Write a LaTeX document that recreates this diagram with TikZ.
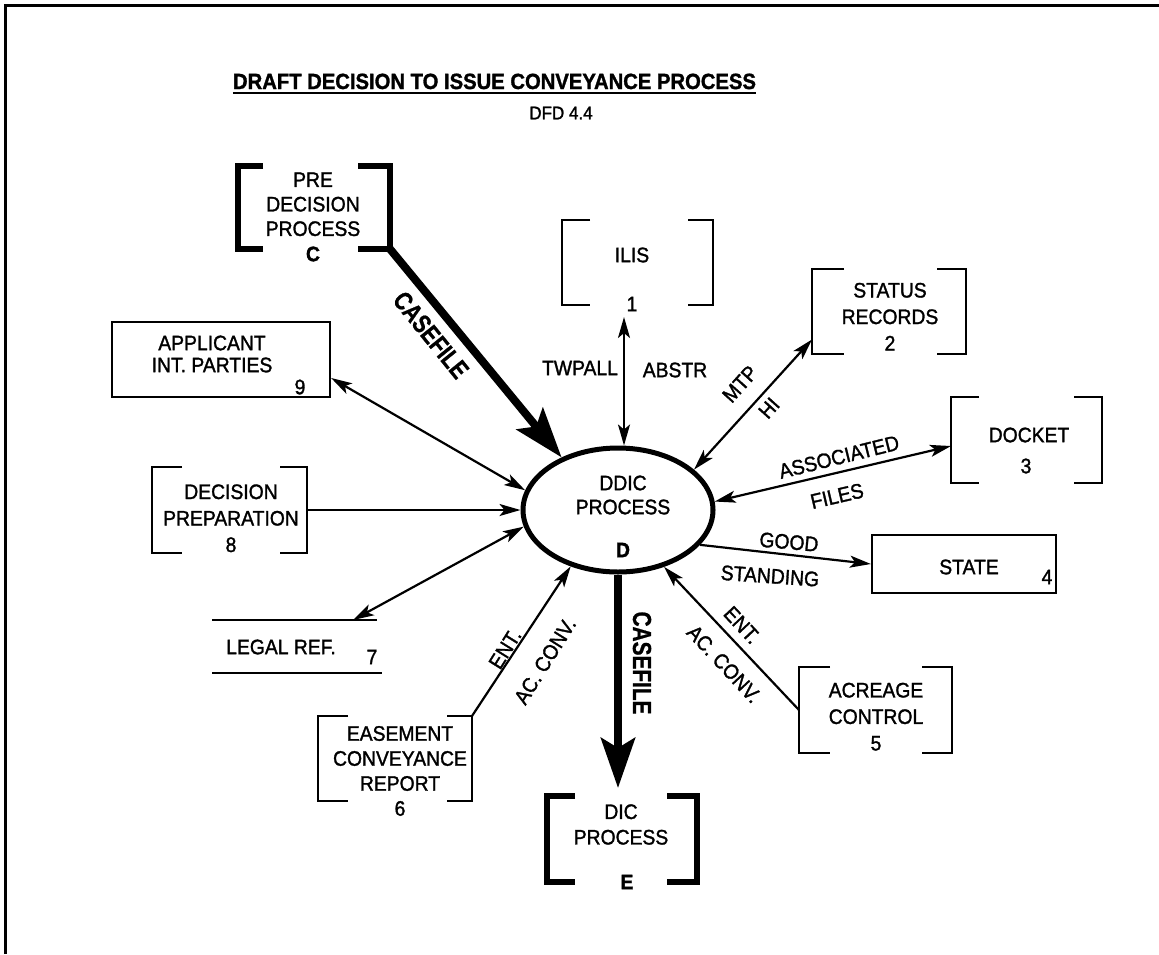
\documentclass[tikz,border=0pt]{standalone}
\usepackage{fontspec}
\setmainfont{Liberation Sans}[FakeStretch=0.92, FakeBold=1.4]
\newfontfamily\narrowbold{Liberation Sans Bold}[FakeStretch=0.8, FakeBold=0.8]
\usetikzlibrary{arrows.meta,shapes.geometric}

% open-bracket outline around a named node: left arm, right arm, line style
\newcommand\bracketpair[4]{%
  \draw[#4] ([xshift=#2]#1.north west) -- (#1.north west) -- (#1.south west) -- ([xshift=#2]#1.south west);
  \draw[#4] ([xshift=-#3]#1.north east) -- (#1.north east) -- (#1.south east) -- ([xshift=-#3]#1.south east);}

\tikzset{
  txt/.style={font=\fontsize{21}{25.5}\selectfont, inner sep=0pt, align=center},
  btxt/.style={font=\fontsize{21}{25.5}\selectfont\bfseries, inner sep=0pt, align=center},
  cftxt/.style={font=\fontsize{26}{28}\narrowbold, inner sep=0pt},
  area/.style={inner sep=0pt, outer sep=0pt, draw=none},
  thinbr/.style={line width=2.2pt},
  thickbr/.style={line width=6.5pt},
  boxline/.style={line width=2.2pt},
  tipS/.tip={Stealth[length=21pt,width=12pt,inset=5pt]},
  flow/.style={line width=2.2pt, -tipS},
  flows/.style={line width=2.2pt, tipS-tipS},
  bigflow/.style={line width=8pt, -{Stealth[length=50pt,width=34pt,inset=10pt]}},
}

\begin{document}
\begin{tikzpicture}[x=1pt,y=-1pt]
\useasboundingbox (0,0) rectangle (1159,954);

% page frame (top and left rules)
\draw[line width=3pt] (5,954) -- (5,5) -- (1159,5);

% heading
\node[font=\fontsize{22}{26}\selectfont\bfseries, inner sep=0pt, anchor=base] (title) at (494.5,89) {DRAFT DECISION TO ISSUE CONVEYANCE PROCESS};
\draw[line width=2.5pt] ([yshift=-4pt]title.base west) -- ([yshift=-4pt]title.base east);
\node[font=\fontsize{18.5}{20}\selectfont, inner sep=0pt] (dfd) at (561,113) {DFD 4.4};

% central process
\node[ellipse, draw, line width=5pt, minimum width=190pt, minimum height=124pt, inner sep=0pt] (ddic) at (618,510) {};
\node[txt, font=\fontsize{21}{24}\selectfont] (ddictext) at (623,495) {DDIC\\PROCESS};
\node[btxt] (ddicid) at (623,550) {D};

% external processes (heavy brackets)
\node[area, minimum width=152pt, minimum height=83pt] (pre) at (314,207.5) {};
\bracketpair{pre}{25pt}{32pt}{thickbr}
\node[txt, font=\fontsize{21}{24.5}\selectfont] (pretext) at (313,204.3) {PRE\\DECISION\\PROCESS};
\node[btxt] (preid) at (313,254) {C};

\node[area, minimum width=150pt, minimum height=86pt] (dic) at (622,839) {};
\bracketpair{dic}{28pt}{30pt}{thickbr}
\node[txt] (dictext) at (621,824.5) {DIC\\PROCESS};
\node[btxt] (dicid) at (627,882) {E};

% data stores (light brackets)
\node[area, minimum width=151pt, minimum height=85pt] (ilis) at (637.5,262.5) {};
\bracketpair{ilis}{28pt}{25pt}{thinbr}
\node[txt] (ilistext) at (632,255) {ILIS};
\node[txt] (ilisnum) at (632,304) {1};

\node[area, minimum width=154pt, minimum height=85pt] (status) at (889,311.5) {};
\bracketpair{status}{32pt}{29pt}{thinbr}
\node[txt, font=\fontsize{21}{26.5}\selectfont] (statustext) at (890,316.7) {STATUS\\RECORDS\\2};

\node[area, minimum width=151pt, minimum height=86pt] (docket) at (1026.5,440) {};
\bracketpair{docket}{28pt}{28pt}{thinbr}
\node[txt] (dockettext) at (1029,435) {DOCKET};
\node[txt] (docketnum) at (1026,466) {3};

\node[area, minimum width=153pt, minimum height=86pt] (acreage) at (875.5,710) {};
\bracketpair{acreage}{31pt}{30pt}{thinbr}
\node[txt, font=\fontsize{21}{26.5}\selectfont] (acreagetext) at (876,716.7) {ACREAGE\\CONTROL\\5};

\node[area, minimum width=154pt, minimum height=85pt] (easement) at (395,758.5) {};
\bracketpair{easement}{30pt}{25pt}{thinbr}
\node[txt, font=\fontsize{21}{25}\selectfont] (easementtext) at (400,771) {EASEMENT\\CONVEYANCE\\REPORT\\6};

\node[area, minimum width=155pt, minimum height=86pt] (dp) at (229.5,510) {};
\bracketpair{dp}{30pt}{27pt}{thinbr}
\node[txt, font=\fontsize{21}{26.5}\selectfont] (dptext) at (231,518.3) {DECISION\\PREPARATION\\8};

% legal reference store (two rules)
\node[area, minimum width=170pt, minimum height=53pt] (legal) at (297,646.5) {};
\draw[boxline] (legal.north west) -- ([xshift=-5pt]legal.north east);
\draw[boxline] (legal.south west) -- (legal.south east);
\node[txt] (legaltext) at (281,647) {LEGAL REF.};
\node[txt] (legalnum) at (372,657) {7};

% external entities (boxes)
\node[draw, boxline, minimum width=218pt, minimum height=75pt, inner sep=0pt] (app) at (221,359.5) {};
\node[txt, font=\fontsize{21}{22}\selectfont] (apptext) at (212,354) {APPLICANT\\INT. PARTIES};
\node[txt] (appnum) at (300,387) {9};

\node[draw, boxline, minimum width=184pt, minimum height=58pt, inner sep=0pt] (state) at (964,564) {};
\node[txt] (statetext) at (969,567) {STATE};
\node[txt] (statenum) at (1047,577) {4};

% connector end points on store edges
\coordinate (ilisport) at (624,317);
\coordinate (legalport) at ([xshift=56pt]legal.north);

% data flows
\draw[bigflow] (pre.south east) -- (ddic.137);
\draw[flows] (ilisport) -- (ddic.north -| ilisport);
\draw[flows] ([yshift=-28pt]status.west) -- (ddic.28);
\draw[flows] ([yshift=-6pt]docket.west) -- (ddic.5);
\draw[flow] (ddic.-23) -- (state.west);
\draw[flow] (acreage.west) -- (ddic.-51);
\draw[bigflow] (ddic.south) -- ([yshift=8pt]ddic.south |- dic.north);
\draw[flow] (easement.north east) -- (ddic.230);
\draw[flows] (legalport) -- (ddic.190);
\draw[flow] (dp.east) -- (ddic.180);
\draw[flows] ([yshift=-18.5pt]app.east) -- (ddic.168);

% flow labels
\node[cftxt, rotate=-51] (cf1) at (431,335) {CASEFILE};
\node[txt] (twpall) at (580,368) {TWPALL};
\node[txt] (abstr) at (675,370) {ABSTR};
\node[txt, rotate=48] (mtp) at (740,384) {MTP};
\node[txt, rotate=48] (hi) at (769,408) {HI};
\node[txt, rotate=14] (assoc) at (839,457) {ASSOCIATED};
\node[txt, rotate=13] (files) at (837,496) {FILES};
\node[txt, rotate=-5] (good) at (789,542) {GOOD};
\node[txt, rotate=-4] (standing) at (770,576) {STANDING};
\node[txt, rotate=-47] (ent1) at (742,625) {ENT.};
\node[txt, rotate=-47] (acconv1) at (724,664) {AC. CONV.};
\node[txt, rotate=58] (ent2) at (505,649) {ENT.};
\node[txt, rotate=58] (acconv2) at (545,661) {AC. CONV.};
\node[cftxt, rotate=-90] (cf2) at (642,663) {CASEFILE};
\end{tikzpicture}
\end{document}
